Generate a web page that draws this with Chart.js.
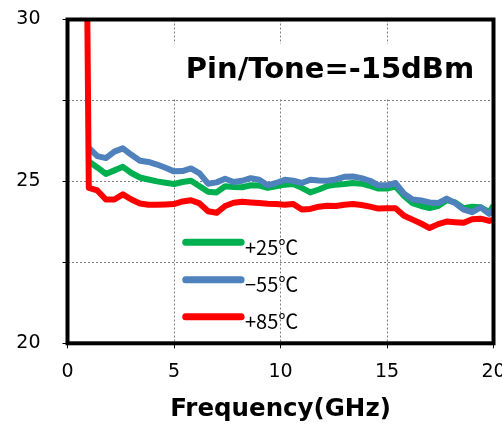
<!DOCTYPE html>
<html>
<head>
<meta charset="utf-8">
<script src="https://cdn.jsdelivr.net/npm/chart.js@4.4.0/dist/chart.umd.min.js"></script>
<style>
    body { margin: 0; background: #fff; }
    #wrap { width: 502px; height: 424px; }
</style>
</head>
<body>
<div id="wrap"><canvas id="gainChart" width="502" height="424"></canvas></div>
<script>
// Frequency points (GHz); first point only used by the +85 spike
const freq = [0.8, 1.0, 1.4, 1.8, 2.2, 2.6, 3.0, 3.4, 3.8, 4.2, 4.6, 5.0, 5.4, 5.8, 6.2, 6.6, 7.0, 7.4, 7.8, 8.2, 8.6,
    9.0, 9.4, 9.8, 10.2, 10.6, 11.0, 11.4, 11.8, 12.2, 12.6, 13.0, 13.4, 13.8, 14.2, 14.6, 15.0, 15.4, 15.8,
    16.2, 16.6, 17.0, 17.4, 17.8, 18.2, 18.6, 19.0, 19.4, 19.8, 20.0];

const gain25 = [null, 25.62, 25.43, 25.23, 25.34, 25.45, 25.26, 25.12, 25.06, 25.0, 24.96, 24.92, 24.98, 25.02, 24.85, 24.68,
    24.66, 24.85, 24.83, 24.82, 24.88, 24.87, 24.8, 24.85, 24.9, 24.92, 24.8, 24.66, 24.75, 24.86, 24.9, 24.92, 24.95,
    24.93, 24.86, 24.78, 24.78, 24.84, 24.55, 24.33, 24.24, 24.18, 24.24, 24.42, 24.35, 24.17, 24.22, 24.2, 24.05, 24.25];

const gainM55 = [null, 26.03, 25.78, 25.72, 25.92, 26.02, 25.82, 25.64, 25.6, 25.52, 25.42, 25.31, 25.32, 25.4, 25.25, 24.93,
    24.97, 25.08, 24.98, 25.02, 25.1, 25.05, 24.88, 24.95, 25.05, 25.02, 24.95, 25.05, 25.03, 25.02, 25.06, 25.14, 25.15,
    25.1, 25.02, 24.88, 24.88, 24.95, 24.62, 24.44, 24.41, 24.35, 24.33, 24.47, 24.33, 24.13, 24.05, 24.2, 24.0, 24.15];

const gain85 = [40, 24.8, 24.72, 24.44, 24.44, 24.6, 24.44, 24.32, 24.28, 24.28, 24.29, 24.3, 24.38, 24.42, 24.32, 24.08,
    24.03, 24.24, 24.34, 24.37, 24.35, 24.33, 24.31, 24.3, 24.28, 24.3, 24.13, 24.15, 24.22, 24.25, 24.24, 24.28, 24.3,
    24.27, 24.22, 24.16, 24.17, 24.17, 23.94, 23.82, 23.7, 23.56, 23.68, 23.76, 23.74, 23.72, 23.83, 23.85, 23.78, 23.82];

const xTicks = [0, 5, 10, 15, 20];
const yLabels = [20, 25, 30];
const seriesNames = ['+25\u2103', '\u221255\u2103', '+85\u2103'];
const seriesColors = ['#00B050', '#4F81BD', '#FF0000'];
const noteText = 'Pin/Tone=-15dBm';

function toPoints(vals) {
    return freq.map((f, i) => ({ x: f, y: vals[i] }));
}

// keep the plot box fixed, labels may hang outside it
function noScalePadding(s) {
    s.paddingLeft = 0;
    s.paddingRight = 0;
    s.paddingTop = 0;
    s.paddingBottom = 0;
}

// Frame, note box and legend drawn on top of the plot
const extrasPlugin = {
    id: 'extras',
    afterDatasetsDraw(chart) {
        const ctx = chart.ctx;
        const a = chart.chartArea;
        const xs = chart.scales.x;
        const ys = chart.scales.y;
        ctx.save();

        // white box with the note
        ctx.fillStyle = '#fff';
        ctx.fillRect(170, 44, 321, 54);
        ctx.fillStyle = '#000';
        ctx.font = 'bold 29px "DejaVu Sans"';
        ctx.textAlign = 'center';
        ctx.textBaseline = 'middle';
        ctx.fillText(noteText, 330, 70);

        // legend inside the plot
        const legY = [23.12, 21.96, 20.82];
        ctx.lineCap = 'round';
        ctx.lineWidth = 7;
        ctx.textAlign = 'left';
        ctx.font = '20px "Liberation Sans Narrow", "Noto Sans CJK JP"';
        seriesNames.forEach((name, i) => {
            const y = ys.getPixelForValue(legY[i]);
            ctx.strokeStyle = seriesColors[i];
            ctx.beginPath();
            ctx.moveTo(xs.getPixelForValue(5.55), y);
            ctx.lineTo(xs.getPixelForValue(8.15), y);
            ctx.stroke();
            ctx.fillStyle = '#000';
            ctx.fillText(name, 245, y + 5);
        });

        // thick frame
        ctx.lineCap = 'butt';
        ctx.strokeStyle = '#000';
        ctx.lineWidth = 4;
        ctx.strokeRect(a.left, a.top, a.right - a.left, a.bottom - a.top);
        ctx.restore();
    }
};

const ctx = document.getElementById('gainChart').getContext('2d');
const gainChart = new Chart(ctx, {
    type: 'line',
    data: {
        datasets: [{
            label: seriesNames[0],
            data: toPoints(gain25),
            borderColor: seriesColors[0],
            order: 2
        }, {
            label: seriesNames[1],
            data: toPoints(gainM55),
            borderColor: seriesColors[1],
            order: 1
        }, {
            label: seriesNames[2],
            data: toPoints(gain85),
            borderColor: seriesColors[2],
            order: 0
        }]
    },
    options: {
        responsive: false,
        animation: false,
        spanGaps: false,
        elements: {
            line: { borderWidth: 6, tension: 0, borderJoinStyle: 'round' },
            point: { radius: 0 }
        },
        layout: { padding: { top: 19.5, right: 8.5, left: 0, bottom: 0 } },
        plugins: {
            legend: { display: false },
            tooltip: { enabled: false }
        },
        scales: {
            x: {
                type: 'linear',
                min: 0,
                max: 20,
                afterFit: s => { s.height = 80.7; noScalePadding(s); },
                afterBuildTicks: s => { s.ticks = xTicks.map(v => ({ value: v })); },
                ticks: {
                    color: '#000',
                    font: { family: 'DejaVu Sans', size: 19 },
                    padding: 12,
                    maxRotation: 0
                },
                grid: {
                    color: '#808080',
                    lineWidth: 1,
                    tickLength: 5,
                    tickColor: '#000',
                    tickBorderDash: []
                },
                border: { display: false, dash: [2, 2] },
                title: {
                    display: true,
                    text: 'Frequency(GHz)',
                    color: '#000',
                    font: { family: 'DejaVu Sans', size: 24.5, weight: 'bold' },
                    padding: { top: 0, bottom: 0 }
                }
            },
            y: {
                min: 20,
                max: 30,
                afterFit: s => { s.width = 67.5; noScalePadding(s); },
                ticks: {
                    stepSize: 2.5,
                    color: '#000',
                    font: { family: 'DejaVu Sans', size: 19 },
                    padding: 22,
                    callback: v => yLabels.includes(v) ? String(v) : ''
                },
                grid: {
                    color: '#808080',
                    lineWidth: 1,
                    tickLength: 5,
                    tickColor: '#000',
                    tickBorderDash: []
                },
                border: { display: false, dash: [2, 2] }
            }
        }
    },
    plugins: [extrasPlugin]
});
</script>
</body>
</html>
